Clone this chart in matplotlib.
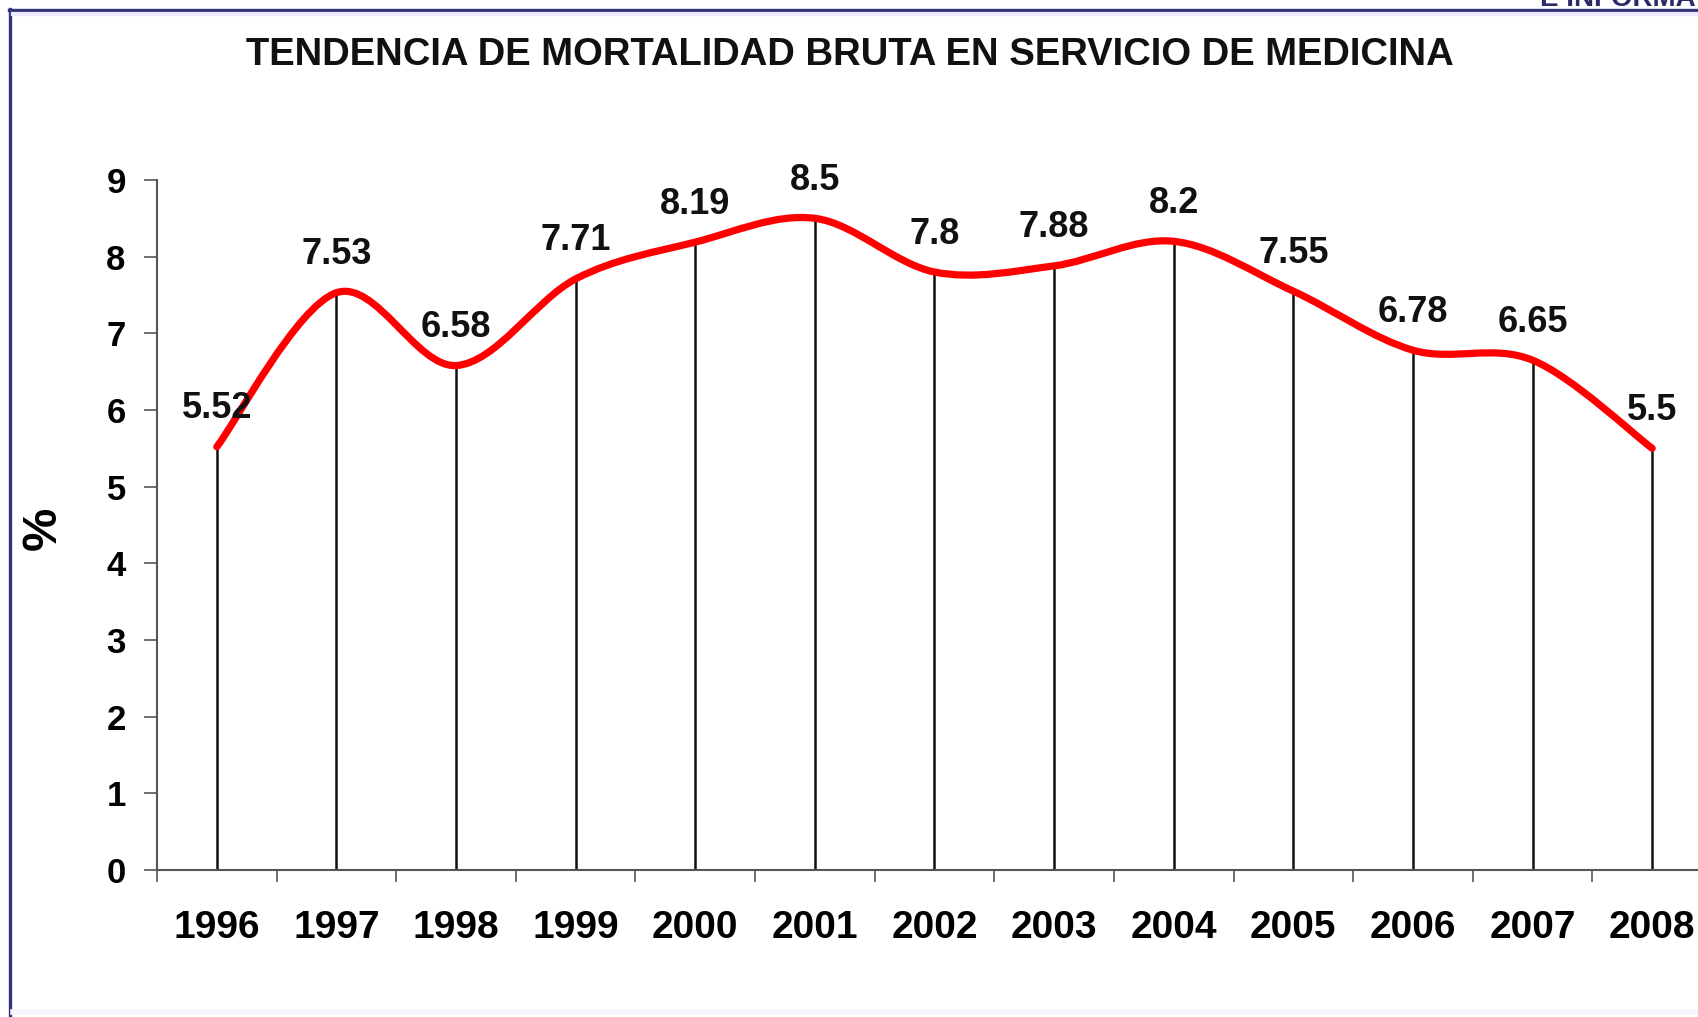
import numpy as np
import matplotlib
matplotlib.use("Agg")
import matplotlib.pyplot as plt
from matplotlib.path import Path
from matplotlib.patches import PathPatch
from matplotlib.lines import Line2D
from matplotlib import font_manager

# data
years = ['1996', '1997', '1998', '1999', '2000', '2001', '2002',
         '2003', '2004', '2005', '2006', '2007', '2008']
mortality = [5.52, 7.53, 6.58, 7.71, 8.19, 8.5, 7.8, 7.88, 8.2, 7.55, 6.78, 6.65, 5.5]
value_labels = ['5.52', '7.53', '6.58', '7.71', '8.19', '8.5', '7.8',
                '7.88', '8.2', '7.55', '6.78', '6.65', '5.5']
y_ticks = [0, 1, 2, 3, 4, 5, 6, 7, 8, 9]
title = "TENDENCIA DE MORTALIDAD BRUTA EN SERVICIO DE MEDICINA"
corner_text = "E INFORMÁTICA"

plt.rcParams['font.family'] = ['Liberation Sans', 'DejaVu Sans']

W, H = 1699, 1017
fig = plt.figure(figsize=(W / 100, H / 100), dpi=100)
fig.patch.set_facecolor('white')


def fx(x):
    return x / W


def fy(y):
    return 1 - y / H


def smooth_path(xs, ys):
    # excel style smoothed line: catmull-rom turned into bezier segments
    pts = np.column_stack([xs, ys]).astype(float)
    n = len(pts)
    verts = [pts[0]]
    codes = [Path.MOVETO]
    for i in range(n - 1):
        p0 = pts[max(i - 1, 0)]
        p1 = pts[i]
        p2 = pts[i + 1]
        p3 = pts[min(i + 2, n - 1)]
        verts += [p1 + (p2 - p0) / 6, p2 - (p3 - p1) / 6, p2]
        codes += [Path.CURVE4] * 3
    return Path(verts, codes)


ax = fig.add_axes([fx(157), 147 / H, 1555 / W, 690 / H])
ax.set_facecolor('none')
x = np.arange(len(years))
ax.set_xlim(-0.5, len(years) - 0.5)
ax.set_ylim(0, 9)

# drop lines
ax.vlines(x, 0, mortality, color='#111111', lw=1.8, zorder=2)
line = PathPatch(smooth_path(x, mortality), fill=False, edgecolor='#ff0000',
                 lw=5.2, capstyle='round', joinstyle='round', zorder=3)
ax.add_patch(line)

for xi, yi, lbl in zip(x, mortality, value_labels):
    ax.annotate(lbl, (xi, yi), xytext=(0, 38), textcoords='offset pixels',
                ha='center', va='center', fontsize=26, fontweight='bold',
                color='#111111', zorder=4, annotation_clip=False)

for s in ['top', 'right']:
    ax.spines[s].set_visible(False)
for s in ['left', 'bottom']:
    ax.spines[s].set_color('#555555')
    ax.spines[s].set_linewidth(1.5)

ax.set_yticks(y_ticks)
ax.set_yticklabels([str(t) for t in y_ticks], fontsize=25, fontweight='bold')
ax.tick_params(axis='y', direction='out', length=9.5, width=1.2,
               color='#555555', pad=13)

ax.set_xticks(x)
ax.set_xticklabels(years, fontsize=28, fontweight='bold')
ax.set_xticks(np.arange(-0.5, len(years)), minor=True)
ax.tick_params(axis='x', which='major', length=0, pad=29)
ax.tick_params(axis='x', which='minor', direction='out', length=8.5,
               width=1.2, color='#555555')

fig.text(fx(43), fy(528), '%', rotation=90, ha='center', va='center',
         fontsize=35, fontweight='bold')

names = {f.name for f in font_manager.fontManager.ttflist}
if 'Liberation Sans Narrow' in names:
    title_family, title_size = ['Liberation Sans Narrow', 'Liberation Sans'], 33.6
else:
    title_family, title_size = ['Liberation Sans', 'DejaVu Sans'], 27.5
fig.text(fx(850), fy(55), title, ha='center', va='center',
         fontsize=title_size, fontweight='bold', family=title_family,
         color='#111111')

# slide frame
fig.add_artist(Line2D([fx(10), fx(10)], [fy(9), 0], transform=fig.transFigure,
                      color='#33337a', lw=2.4))
fig.add_artist(Line2D([fx(9), 1], [fy(10), fy(10)], transform=fig.transFigure,
                      color='#33337a', lw=2.4))
fig.add_artist(Line2D([fx(13), 1], [fy(14), fy(14)], transform=fig.transFigure,
                      color='#eeeaff', lw=3))
fig.add_artist(Line2D([fx(13), 1], [fy(1012), fy(1012)], transform=fig.transFigure,
                      color='#f6f4ff', lw=4))
# header text of the slide, cut by the top edge as in the original
fig.text(fx(1540), fy(6), corner_text, ha='left', va='baseline',
         fontsize=20, fontweight='bold', color='#2b2b66')

fig.savefig('out.png', dpi=100, facecolor='white')
